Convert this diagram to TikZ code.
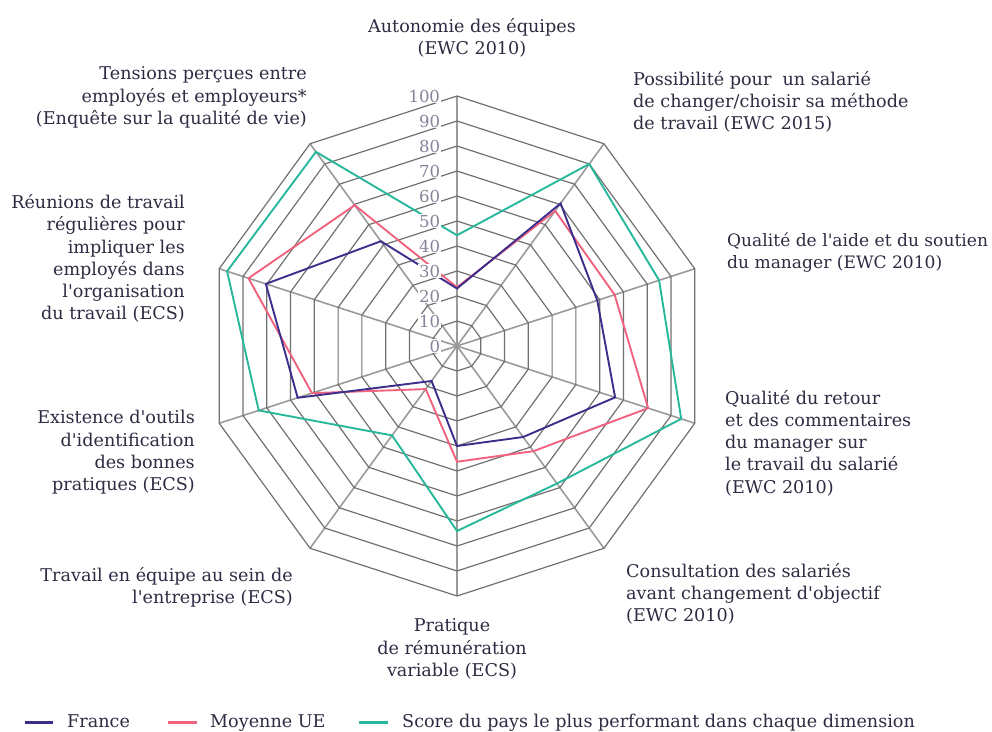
\documentclass[tikz,border=0pt]{standalone}
\usepackage{fontspec}
\setmainfont{DejaVu Serif}[Ligatures=TeXOff]
\definecolor{txt}{HTML}{2C2C42}
\definecolor{ringc}{HTML}{707070}
\definecolor{spokec}{HTML}{9A9A9A}
\definecolor{valc}{HTML}{84849A}
\definecolor{frc}{HTML}{3D2E8C}
\definecolor{uec}{HTML}{F0627E}
\definecolor{tpc}{HTML}{27B89C}
\tikzset{
  ring/.style={draw=ringc, line width=1.2pt, line join=miter},
  spoke/.style={draw=spokec, line width=1.6pt},
  serie/.style={line width=1.9pt, line join=miter},
  vlab/.style={anchor=east, fill=white, inner sep=0.8pt, text=valc, font=\fontsize{16.5}{16.5}\selectfont},
  lab/.style={text=txt, inner sep=0pt, font=\fontsize{17.6}{22.3}\selectfont},
  leg/.style={line width=3pt},
}
\begin{document}
\begin{tikzpicture}[x=1pt,y=1pt]
\useasboundingbox (-457,-385) rectangle (535,346);
% spokes
\foreach \k in {0,...,9} \draw[spoke] (0,0) -- (90-36*\k:250);
% rings
\foreach \l [evaluate=\l as \r using \l*25] in {1,...,10}
  \draw[ring] (90:\r) \foreach \k in {1,...,9} { -- (90-36*\k:\r) } -- cycle;
\fill[spokec] (0,0) circle (2.5);
% data
\begin{scope}[scale=2.5]
\draw[serie, tpc] (90:44.3) -- (54:90) -- (18:85) -- (-18:94.3) -- (-54:68) -- (-90:74) -- (-126:44.2) -- (-162:83.4) -- (162:96.7) -- (126:96) -- cycle;
\draw[serie, uec] (90:23.5) -- (54:66.8) -- (18:66.3) -- (-18:80.4) -- (-54:52) -- (-90:46.3) -- (-126:21.3) -- (-162:61) -- (162:87.7) -- (126:69.6) -- cycle;
\draw[serie, frc] (90:23) -- (54:70.5) -- (18:59) -- (-18:66.5) -- (-54:45) -- (-90:40) -- (-126:17.3) -- (-162:67) -- (162:80.4) -- (126:51.8) -- cycle;
\end{scope}
% value labels
\foreach \v in {0,10,...,100} \node[vlab] (v\v) at (-16,{\v*2.5}) {\v};
% axis labels
\node[lab, align=center] (a0) at (15,308) {Autonomie des équipes\\(EWC 2010)};
\node[lab, align=left, anchor=west] (a1) at (176,244) {Possibilité pour \ un salarié\\de changer/choisir sa méthode\\de travail (EWC 2015)};
\node[lab, align=left, anchor=west, font=\fontsize{17.1}{22.3}\selectfont] (a2) at (270,93.5) {Qualité de l'aide et du soutien\\du manager (EWC 2010)};
\node[lab, align=left, anchor=west] (a3) at (268,-97) {Qualité du retour\\et des commentaires\\du manager sur\\le travail du salarié\\(EWC 2010)};
\node[lab, align=left, anchor=west] (a4) at (169,-248) {Consultation des salariés\\avant changement d'objectif\\(EWC 2010)};
\node[lab, align=center] (a5) at (-5,-303) {Pratique\\de rémunération\\variable (ECS)};
\node[lab, align=right, anchor=east] (a6) at (-164,-241) {Travail en équipe au sein de\\l'entreprise (ECS)};
\node[lab, align=right, anchor=east] (a7) at (-262,-106.5) {Existence d'outils\\d'identification\\des bonnes\\pratiques (ECS)};
\node[lab, align=right, anchor=east] (a8) at (-272,87.5) {Réunions de travail\\régulières pour\\impliquer les\\employés dans\\l'organisation\\du travail (ECS)};
\node[lab, align=right, anchor=east] (a9) at (-150,248.5) {Tensions perçues entre\\employés et employeurs*\\(Enquête sur la qualité de vie)};
% legend
\coordinate (f1) at (-432,-376); \coordinate (f2) at (-404,-376);
\coordinate (u1) at (-289,-376); \coordinate (u2) at (-260,-376);
\coordinate (t1) at (-98,-376); \coordinate (t2) at (-69,-376);
\draw[leg, frc] (f1) -- (f2);
\draw[leg, uec] (u1) -- (u2);
\draw[leg, tpc] (t1) -- (t2);
\node[lab, anchor=base west] (lf) at (-390,-381.5) {France};
\node[lab, anchor=base west] (lu) at (-247,-381.5) {Moyenne UE};
\node[lab, anchor=base west] (lt) at (-55,-381.5) {Score du pays le plus performant dans chaque dimension};
\end{tikzpicture}
\end{document}
